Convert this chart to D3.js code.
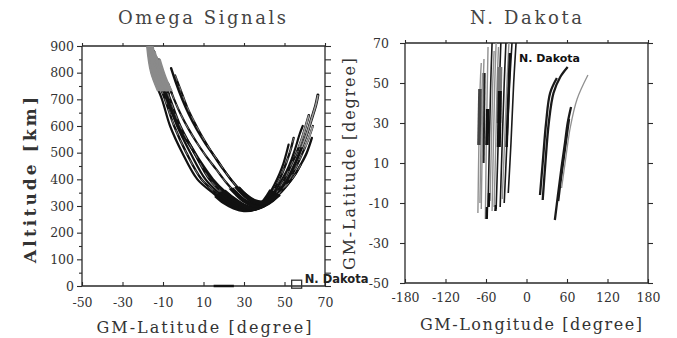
<!DOCTYPE html>
<html><head><meta charset="utf-8">
<script src="https://cdn.jsdelivr.net/npm/d3@7"></script>
<style>
body{margin:0;background:#fff;}
svg{display:block;}
</style></head>
<body><svg id="c" width="677" height="338"></svg>
<script>
// ---------- DATA ----------
const titles = ["Omega  Signals", "N.  Dakota"];
const leftXTicks = [-50, -30, -10, 10, 30, 50, 70];
const leftYTicks = [0, 100, 200, 300, 400, 500, 600, 700, 800, 900];
const rightXTicks = [-180, -120, -60, 0, 60, 120, 180];
const rightXTickLabels = ["-180", "-120", "-60", "0", "60", "120", "180"];
const rightYTicks = [-50, -30, -10, 10, 30, 50, 70];

// left panel: signal tracks, [GM-latitude (deg), altitude (km)]
const altTracks = [
  [[-17.5,900],[-15.5,800],[-10.5,700],[-6.5,600],[-0.5,500],[7,400],[14.5,350],[20,315],[25,295],[30,285],[35,290],[39,310],[42,340],[45,380],[47.5,420],[49.5,460],[51,500],[52,530]],
  [[-16.5,900],[-14,800],[-9,700],[-4.5,600],[1.5,500],[9,400],[16,350],[21.5,315],[26.5,296],[31,287],[36,292],[40,312],[43.5,345],[46.5,385],[49,425],[51,465],[53,510],[54.5,555]],
  [[-15.5,900],[-12.5,800],[-7.5,700],[-3,600],[3.5,500],[11,400],[17.5,350],[23,316],[28,297],[32,289],[37,294],[41.5,315],[45,350],[48,390],[51,430],[53.5,475],[55.5,520],[57.5,570],[59,600]],
  [[-14.5,880],[-11.5,800],[-6.5,700],[-1.5,600],[5.5,500],[13,400],[19,352],[24.5,318],[29,299],[33,291],[38,297],[42.5,318],[46.5,355],[50,400],[53,450],[56,500],[58.5,550],[60.5,600],[62,640]],
  [[-10,735],[-6,660],[-2.5,600],[4,520],[8,470],[14.5,400],[20.5,353],[26,320],[30,301],[34,293],[39,300],[44,322],[48,358],[51.5,400],[55,455],[58,510],[61,570],[63.5,630],[65.5,680],[66.5,716]],
  [[-7.5,760],[-4.5,700],[-1,640],[2.5,590],[6.5,540],[11,490],[16,440],[21,390],[26,348],[30.5,318],[35,303],[40,308],[45,330],[49,362],[52.5,400],[56,450],[59,500],[62,555],[64,600]],
  [[-6,817],[-3.5,760],[-0.5,700],[3,640],[6.5,590],[10.5,540],[15,490],[19.5,440],[24,395],[28.5,355],[33,325],[37,310],[42,318],[47,342],[51,375],[54.5,410],[58,455],[61,500],[63.5,555]],
  [[-4,790],[-1,730],[2,670],[5.5,615],[9,565],[13,515],[17.5,465],[22,415],[26.5,372],[31,338],[35,318],[39,312],[43.5,325],[48,352],[52,385],[55.5,420],[58,455]],
  [[-13.5,860],[-10.5,790],[-7,720]],
  [[-12,850],[-9,780],[-5.5,720]]
];
const groundTrack = [[15,0],[25,0]];
const stationLeft = [[56,3]];

// right panel: tracks, [GM-longitude (deg), GM-latitude (deg)]
const geoTracks = [
  [[-72,-15],[-70.5,20],[-68.5,50],[-67,60]],
  [[-67,-13],[-65.5,20],[-64,50],[-63,62]],
  [[-61,-18],[-59.5,20],[-58,50],[-57,68]],
  [[-57,-12],[-55,20],[-53,50],[-51,70]],
  [[-51,-14],[-49,20],[-47,50],[-45,70]],
  [[-45,-13],[-42,20],[-40,50],[-38,70]],
  [[-39,-12],[-36,20],[-33,50],[-30.5,70]],
  [[-33,-10],[-29,20],[-25,50],[-21.5,70]],
  [[-27,-5],[-23,20],[-19,50],[-15.5,70]],
  [[20,-6],[24,10],[29,30],[35,45],[45,52.5]],
  [[24,-8.5],[28,10],[33,30],[40,45],[50,53],[61,58]],
  [[42,-18.5],[47,-5],[52,8],[57,20],[61,30],[66,38]],
  [[47,-9],[51,2],[55,12],[59,22],[63,32]],
  [[52,-2.5],[58,12],[65,28],[75,42],[91,54]],
  [[-69,-10],[-67.5,20],[-66,45],[-65,55]],
  [[-54,-9],[-52,20],[-50,50],[-48,66]],
  [[-48,-12],[-45.5,20],[-43.5,50],[-41.5,68]],
  [[-36,-8],[-32.5,20],[-29,50],[-26,70]]
];
// darker bar segments inside the western cluster
const geoBars = [
  [[-70.5,19],[-69,47]],
  [[-63.5,10],[-62,55]],
  [[-58.5,19],[-57.5,37]],
  [[-41,30],[-39.5,58]],
  [[-41,18],[-39.5,46]],
  [[-29.5,18],[-24.5,65]],
  [[-59,-18],[-58.5,-12]],
  [[-56,-12],[-55.5,-5]],
  [[-46,-14],[-45.5,-11]]
];
const stationLabel = "N. Dakota";

// ---------- DRAW ----------
const svg = d3.select("#c");
const serif = "'DejaVu Serif', 'Liberation Serif', serif";
const ink = "#2a2a2a";

const xL = d3.scaleLinear([-50, 70], [82, 325]);
const yL = d3.scaleLinear([0, 900], [286, 46]);
const xR = d3.scaleLinear([-180, 180], [405, 648]);
const yR = d3.scaleLinear([-50, 70], [283, 43]);

// titles
svg.append("text").attr("x", 202).attr("y", 24).attr("text-anchor", "middle")
  .attr("font-family", serif).attr("font-size", 18).attr("fill", "#444")
  .attr("textLength", 168).attr("lengthAdjust", "spacing").text(titles[0]);
svg.append("text").attr("x", 526).attr("y", 24).attr("text-anchor", "middle")
  .attr("font-family", serif).attr("font-size", 18).attr("fill", "#444")
  .attr("textLength", 112).attr("lengthAdjust", "spacing").text(titles[1]);

// ----- left panel frame/axes -----
const gL = svg.append("g");
function frame(g, x0, x1, y0, y1) {
  g.append("path").attr("d", `M${x0},${y0}V${y1}H${x1}V${y0}H${x0}`)
    .attr("fill", "none").attr("stroke", ink).attr("stroke-width", 1.3);
}
frame(gL, xL.range()[0], xL.range()[1], yL.range()[1], yL.range()[0]);

const fmt = d => String(d);
const axLeft = d3.axisLeft(yL).tickValues(leftYTicks).tickSize(5).tickFormat(fmt);
gL.append("g").attr("transform", `translate(${xL.range()[0]},0)`).call(axLeft)
  .call(g => g.select(".domain").remove());
const axLeftMinor = d3.axisLeft(yL).tickValues(d3.range(50, 900, 100)).tickSize(3).tickFormat("");
gL.append("g").attr("transform", `translate(${xL.range()[0]},0)`).call(axLeftMinor)
  .call(g => g.select(".domain").remove());
const axRightL = d3.axisRight(yL).tickValues(d3.range(0, 901, 50)).tickSize(6).tickFormat("");
gL.append("g").attr("transform", `translate(${xL.range()[1]},0)`).call(axRightL)
  .call(g => g.select(".domain").remove());
const axBottomL = d3.axisBottom(xL).tickValues(leftXTicks).tickSize(-4).tickPadding(12).tickFormat(fmt);
gL.append("g").attr("transform", `translate(0,${yL.range()[0]})`).call(axBottomL)
  .call(g => g.select(".domain").remove());
const axTopL = d3.axisTop(xL).tickValues(leftXTicks).tickSize(3).tickFormat("");
gL.append("g").attr("transform", `translate(0,${yL.range()[1]})`).call(axTopL)
  .call(g => g.select(".domain").remove());

// ----- right panel frame/axes -----
const gR = svg.append("g");
frame(gR, xR.range()[0], xR.range()[1], yR.range()[1], yR.range()[0]);
const axLeftR = d3.axisLeft(yR).tickValues(rightYTicks).tickSize(5).tickPadding(11).tickFormat(fmt);
gR.append("g").attr("transform", `translate(${xR.range()[0]},0)`).call(axLeftR)
  .call(g => g.select(".domain").remove());
const axRightR = d3.axisRight(yR).tickValues(rightYTicks).tickSize(5).tickFormat("");
gR.append("g").attr("transform", `translate(${xR.range()[1]},0)`).call(axRightR)
  .call(g => g.select(".domain").remove());
const axBottomR = d3.axisBottom(xR).tickValues(rightXTicks).tickSize(-4).tickPadding(10)
  .tickFormat((d, i) => rightXTickLabels[i]);
gR.append("g").attr("transform", `translate(0,${yR.range()[0]})`).call(axBottomR)
  .call(g => g.select(".domain").remove());
const axTopR = d3.axisTop(xR).tickValues(rightXTicks).tickSize(3).tickFormat("");
gR.append("g").attr("transform", `translate(0,${yR.range()[1]})`).call(axTopR)
  .call(g => g.select(".domain").remove());

svg.selectAll(".tick line").attr("stroke", ink).attr("stroke-width", 1.1);
svg.selectAll(".tick text").attr("font-family", serif).attr("font-size", 12.5).attr("fill", "#333");

// axis titles
svg.append("text").attr("x", 204).attr("y", 333).attr("text-anchor", "middle")
  .attr("font-family", serif).attr("font-size", 16).attr("fill", "#333")
  .attr("textLength", 215).attr("lengthAdjust", "spacing").text("GM-Latitude [degree]");
svg.append("text").attr("x", 531).attr("y", 330).attr("text-anchor", "middle")
  .attr("font-family", serif).attr("font-size", 16).attr("fill", "#333")
  .attr("textLength", 222).attr("lengthAdjust", "spacing").text("GM-Longitude [degree]");
svg.append("text").attr("transform", "translate(36,180) rotate(-90)").attr("text-anchor", "middle")
  .attr("font-family", serif).attr("font-size", 17).attr("font-weight", "bold").attr("fill", "#333")
  .attr("textLength", 166).attr("lengthAdjust", "spacing").text("Altitude [km]");
svg.append("text").attr("transform", "translate(355,164) rotate(-90)").attr("text-anchor", "middle")
  .attr("font-family", serif).attr("font-size", 16).attr("fill", "#333")
  .attr("textLength", 212).attr("lengthAdjust", "spacing").text("GM-Latitude [degree]");

// ----- left panel tracks -----
const defs = svg.append("defs");
defs.append("clipPath").attr("id", "clipTopLeft").append("rect")
  .attr("x", 82).attr("y", 40).attr("width", xL(5) - 82).attr("height", yL(730) - 40);
defs.append("clipPath").attr("id", "clipBottom").append("ellipse")
  .attr("cx", xL(32)).attr("cy", yL(300)).attr("rx", 38).attr("ry", 20);
defs.append("clipPath").attr("id", "clipUpRight").append("rect")
  .attr("x", xL(52)).attr("y", 40).attr("width", 325 - xL(52)).attr("height", yL(520) - 40);
defs.append("clipPath").attr("id", "clipPlotL").append("rect")
  .attr("x", 82).attr("y", 46).attr("width", 243).attr("height", 240);

const lineL = d3.line().x(d => xL(d[0])).y(d => yL(d[1])).curve(d3.curveCatmullRom);
const tracksG = gL.append("g").attr("clip-path", "url(#clipPlotL)");
const widths = [2.2, 2.4, 2.2, 2.6, 3, 2.2, 2.4, 2, 2, 2];
tracksG.selectAll("path.t").data(altTracks).join("path").attr("class", "t")
  .attr("d", lineL).attr("fill", "none").attr("stroke", "#111")
  .attr("stroke-width", (d, i) => widths[i]).attr("stroke-linecap", "round");
// inner light streaks
tracksG.selectAll("path.s").data(altTracks.filter((d, i) => i % 2 === 1 && i < 8)).join("path").attr("class", "s")
  .attr("d", lineL).attr("fill", "none").attr("stroke", "#fff").attr("stroke-width", 0.6)
  .attr("stroke-dasharray", "6,5").attr("opacity", 0.7);
// gray upper-left portion
tracksG.append("g").attr("clip-path", "url(#clipTopLeft)")
  .selectAll("path").data(altTracks.filter((d, i) => i < 4 || i >= 8)).join("path")
  .attr("d", lineL).attr("fill", "none").attr("stroke", "#8a8a8a").attr("stroke-width", 3.6);
// gray upper-right portions
tracksG.append("g").attr("clip-path", "url(#clipUpRight)")
  .selectAll("path").data(altTracks.filter((d, i) => i === 3 || i === 4 || i === 5)).join("path")
  .attr("d", lineL).attr("fill", "none").attr("stroke", "#9a9a9a").attr("stroke-width", 1.6);
// dense black bottom
tracksG.append("g").attr("clip-path", "url(#clipBottom)")
  .selectAll("path").data(altTracks.slice(0, 8)).join("path")
  .attr("d", lineL).attr("fill", "none").attr("stroke", "#111").attr("stroke-width", 4.5);

// ground segment and station marker
gL.append("path").attr("d", d3.line().x(d => xL(d[0])).y(d => yL(d[1]))(groundTrack))
  .attr("stroke", "#111").attr("stroke-width", 2.5);
gL.selectAll("rect.st").data(stationLeft).join("rect").attr("class", "st")
  .attr("x", d => xL(d[0]) - 5).attr("y", d => yL(d[1]) - 5).attr("width", 10).attr("height", 8)
  .attr("fill", "none").attr("stroke", "#333").attr("stroke-width", 1.3);
svg.append("text").attr("x", xL(stationLeft[0][0]) + 8).attr("y", 283)
  .attr("font-family", "'DejaVu Sans', sans-serif").attr("font-weight", "bold").attr("font-size", 11.5)
  .attr("fill", "#222").text(stationLabel);

// ----- right panel tracks -----
const lineR = d3.line().x(d => xR(d[0])).y(d => yR(d[1])).curve(d3.curveCatmullRom);
const grayIdx = [0, 1, 2, 4, 13, 14, 15, 16, 17];
gR.selectAll("path.g").data(geoTracks).join("path").attr("class", "g")
  .attr("d", lineR).attr("fill", "none")
  .attr("stroke", (d, i) => grayIdx.includes(i) ? "#909090" : "#1a1a1a")
  .attr("stroke-width", (d, i) => i === 13 ? 1.3 : (grayIdx.includes(i) ? 1.4 : (i >= 9 ? 2.3 : 1.6)));
const barW = [3.5, 2, 3.5, 5, 4, 2.6, 2.5, 2.5, 2.5];
const barC = ["#444", "#222", "#111", "#777", "#111", "#111", "#111", "#111", "#111"];
gR.selectAll("path.b").data(geoBars).join("path").attr("class", "b")
  .attr("d", d3.line().x(d => xR(d[0])).y(d => yR(d[1]))).attr("fill", "none")
  .attr("stroke", (d, i) => barC[i]).attr("stroke-width", (d, i) => barW[i]);
svg.append("text").attr("x", 519).attr("y", 62)
  .attr("font-family", "'DejaVu Sans', sans-serif").attr("font-weight", "bold").attr("font-size", 11)
  .attr("fill", "#111").text(stationLabel);
</script>
</body></html>
